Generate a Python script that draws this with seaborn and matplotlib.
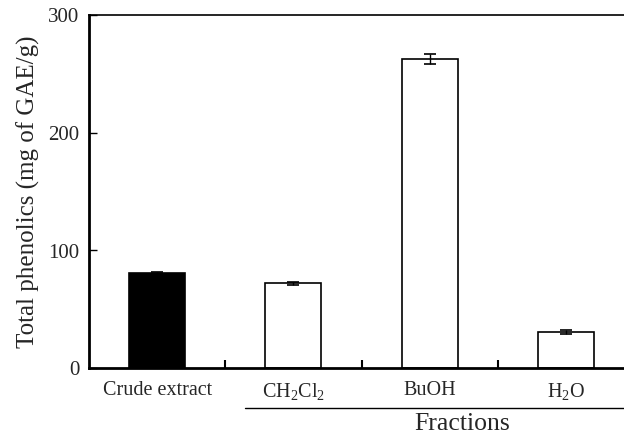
import matplotlib
matplotlib.use("Agg")
import matplotlib.pyplot as plt
import seaborn as sns
import pandas as pd
import numpy as np

categories = ["Crude extract", "CH$_2$Cl$_2$", "BuOH", "H$_2$O"]
values = [81, 72, 263, 31]
errors = [1.0, 1.0, 4.0, 1.7]
bar_colors = ["black", "white", "white", "white"]
yticks = [0, 100, 200, 300]

sns.set_theme(style="white")
plt.rcParams["font.family"] = ["Liberation Serif", "DejaVu Serif"]
plt.rcParams["mathtext.default"] = "regular"

fig = plt.figure(figsize=(6.24, 4.36), dpi=100)
W, H = 624, 436
ax = fig.add_axes([89 / W, (H - 368) / H, (634 - 89) / W, (368 - 15.5) / H])

df = pd.DataFrame({"cat": categories, "val": values})
sns.barplot(data=df, x="cat", y="val", hue="cat", palette=bar_colors,
            edgecolor="black", linewidth=1.2, width=0.41, dodge=False,
            legend=False, ax=ax, errorbar=None)
ax.errorbar(np.arange(len(categories)), values, yerr=errors, fmt="none",
            ecolor="black", elinewidth=1.0, capsize=4, capthick=1.2)

ax.set_xlim(-0.5, len(categories) - 0.5)
ax.set_ylim(0, 300)
ax.set_yticks(yticks)
ax.set_yticklabels([str(t) for t in yticks], fontsize=15)
ax.set_xticks(range(len(categories)))
ax.set_xticklabels(categories, fontsize=14.5)
ax.tick_params(axis="x", which="major", bottom=True, length=0, pad=9)
ax.set_xticks([0.5, 1.5, 2.5], minor=True)
ax.tick_params(axis="x", which="minor", bottom=True, direction="in", length=6, width=1.5, color="black")
ax.tick_params(axis="y", which="major", left=True, direction="in", length=6, width=1.0, color="black", pad=7)
ax.set_xlabel("")
ax.set_ylabel("Total phenolics (mg of GAE/g)", fontsize=18, labelpad=6)

for s in ["left", "bottom"]:
    ax.spines[s].set_linewidth(2.0)
    ax.spines[s].set_color("black")
ax.spines["top"].set_linewidth(1.2)
ax.spines["top"].set_color("black")
ax.spines["right"].set_visible(False)

# Fractions group line and label
fig.add_artist(plt.Line2D([245 / W, 1.0], [(H - 408) / H] * 2, color="black", lw=1.0))
fig.text(462 / W, (H - 424) / H, "Fractions", ha="center", va="center", fontsize=18.5)

fig.savefig("out.png", dpi=100)
